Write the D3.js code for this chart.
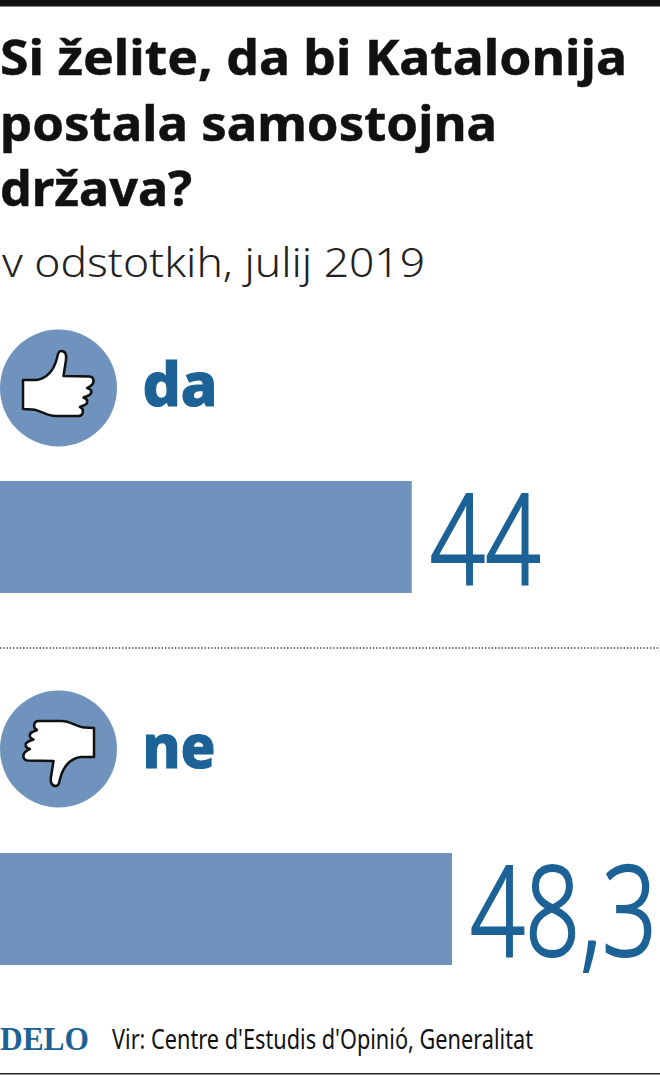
<!DOCTYPE html>
<html>
<head>
<meta charset="utf-8">
<script src="https://cdn.jsdelivr.net/npm/d3@7"></script>
<style>
html, body { margin: 0; padding: 0; background: #fff; }
svg { display: block; }
text { font-family: "Noto Sans", sans-serif; }
</style>
</head>
<body>
<div id="master"></div>
<script>
const categories = ["da", "ne"]
const values = [44, 48.3]
const titleLines = ["Si želite, da bi Katalonija", "postala samostojna", "država?"]
const subtitle = "v odstotkih, julij 2019"
const source = "Vir: Centre d'Estudis d'Opinió, Generalitat"
const logo = "DELO"

const w = 660
const h = 1075
const barColor = "#6f93bd"
const blue = "#1d6296"

let svg = d3.select("#master").append("svg").attr("width", w).attr("height", h)

// fitted text, the installed fonts are wider than the original
const fit = (sel, len) => sel.attr("textLength", len).attr("lengthAdjust", "spacingAndGlyphs")

svg.append("rect").attr("width", w).attr("height", 6.5).attr("fill", "#111")

let titleX = [627, 497, 192]
svg.selectAll(".title")
  .data(titleLines)
  .enter()
  .append("text")
  .attr("class", "title")
  .attr("x", 0)
  .attr("y", (d, i) => 75 + i * 65.5)
  .attr("font-size", 48)
  .attr("font-weight", 700)
  .attr("fill", "#111")
  .attr("stroke", "#111")
  .attr("stroke-width", 0.5)
  .text(d => d)
  .each(function(d, i) { fit(d3.select(this), titleX[i]) })

svg.append("text")
  .attr("x", 2)
  .attr("y", 277)
  .attr("font-size", 41)
  .attr("font-weight", 300)
  .attr("fill", "#222")
  .text(subtitle)
  .call(fit, 423)

let x = d3.scaleLinear().domain([0, 48.3]).range([0, 452])
let y = d3.scaleBand().domain(categories).range([481, 965]).paddingInner(0.699)

svg.selectAll(".bar")
  .data(categories)
  .enter()
  .append("rect")
  .attr("class", "bar")
  .attr("x", 0)
  .attr("y", d => y(d))
  .attr("width", (d, i) => x(values[i]))
  .attr("height", y.bandwidth())
  .attr("fill", barColor)

// big numbers squeezed with a transform so the box stays inside the page
let valueW = [111, 187]
svg.selectAll(".value")
  .data(categories)
  .enter()
  .append("text")
  .attr("class", "value")
  .attr("font-size", 126)
  .attr("font-weight", 300)
  .attr("fill", blue)
  .attr("stroke", blue)
  .attr("stroke-width", 1.8)
  .attr("vector-effect", "non-scaling-stroke")
  .text((d, i) => String(values[i]).replace(".", ","))
  .attr("transform", function(d, i) {
    let sx = valueW[i] / this.getComputedTextLength()
    return "translate(" + (x(values[i]) + 18) + "," + (y(d) + 103) + ") scale(" + sx + ",1)"
  })

// circles and hand icons
const hand = "M-35.5,-8 L-22,-8 C-10,-10 -4,-20 -1.5,-30 C-0.5,-36 1,-37 2.5,-37 C6.5,-37 8.5,-34 7.5,-28 L5,-12 L31,-11.5 C36,-11 36.5,-5 32,-2 L28.5,0 C34,1 34.5,6 29,8 L25,9.5 C30,11 30,16 25,17.5 L21.5,19 C26,21 25,28 20,28 L-3,28 C-12,28 -18,22 -26,21.5 L-35.5,21 Z"

let icons = svg.selectAll(".icon")
  .data(categories)
  .enter()
  .append("g")
  .attr("class", "icon")
  .attr("transform", (d, i) => "translate(58.5," + (388 + i * 361) + ")")

icons.append("circle").attr("r", 58.5).attr("fill", barColor)
icons.append("path")
  .attr("d", hand)
  .attr("transform", (d, i) => i ? "rotate(180)" : null)
  .attr("fill", "#fff")
  .attr("stroke", "#111")
  .attr("stroke-width", 2.5)
  .attr("stroke-linejoin", "round")

let labelW = [75, 73]
svg.selectAll(".cat")
  .data(categories)
  .enter()
  .append("text")
  .attr("class", "cat")
  .attr("x", 142.5)
  .attr("y", (d, i) => [406, 768][i])
  .attr("font-size", 60)
  .attr("font-weight", 800)
  .attr("fill", blue)
  .attr("stroke", blue)
  .attr("stroke-width", 1.2)
  .text(d => d)
  .each(function(d, i) { fit(d3.select(this), labelW[i]) })

// divider
svg.append("line")
  .attr("x1", 0).attr("x2", w)
  .attr("y1", 648).attr("y2", 648)
  .attr("stroke", "#333")
  .attr("stroke-width", 1.3)
  .attr("stroke-dasharray", "1.3 2")

// footer
svg.append("text")
  .attr("x", 0)
  .attr("y", 1050)
  .style("font-family", "'Liberation Serif', serif")
  .attr("font-size", 33)
  .attr("font-weight", 700)
  .attr("fill", blue)
  .text(logo)
  .call(fit, 89)

svg.append("text")
  .attr("x", 112)
  .attr("y", 1049)
  .attr("font-size", 28)
  .attr("fill", "#111")
  .text(source)
  .call(fit, 421)

svg.append("rect").attr("y", 1073).attr("width", w).attr("height", 1.5).attr("fill", "#222")
</script>
</body>
</html>
